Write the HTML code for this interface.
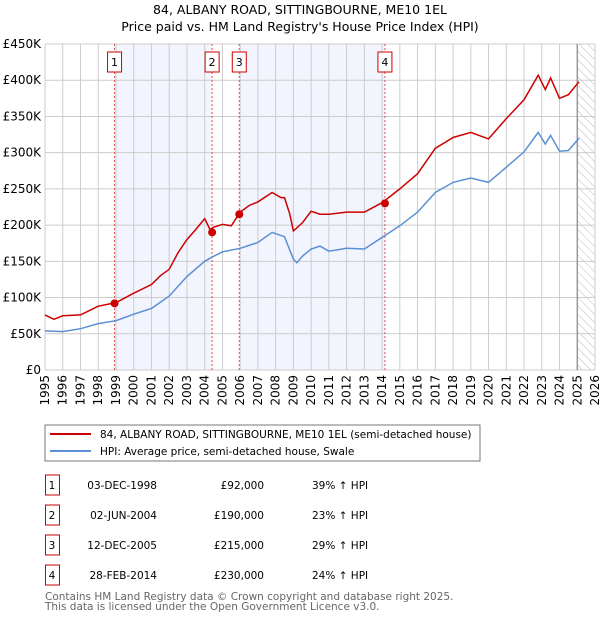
<!DOCTYPE html>
<html><head><meta charset="utf-8"><style>
body{margin:0;background:#fff;font-family:"Liberation Sans","DejaVu Sans",sans-serif;}
svg text{font-family:"DejaVu Sans","Liberation Sans",sans-serif;}
</style></head><body>
<svg id="chart" width="600" height="620" viewBox="0 0 600 620" xmlns="http://www.w3.org/2000/svg">
<defs><pattern id="hatch" width="6" height="6" patternUnits="userSpaceOnUse" patternTransform="rotate(-45)"><line x1="0" y1="0" x2="0" y2="6" stroke="#bbb" stroke-width="1"/></pattern></defs>
<text x="300" y="14" text-anchor="middle" font-size="12.5">84, ALBANY ROAD, SITTINGBOURNE, ME10 1EL</text>
<text x="300" y="31" text-anchor="middle" font-size="12.5">Price paid vs. HM Land Registry's House Price Index (HPI)</text>
<g id="plot"></g>
<g>
<rect x="45" y="425" width="435" height="36" fill="#fff" stroke="#777"/>
<line x1="50" y1="434" x2="91" y2="434" stroke="#cc0000" stroke-width="2"/>
<text x="100" y="438" font-size="10.5">84, ALBANY ROAD, SITTINGBOURNE, ME10 1EL (semi-detached house)</text>
<line x1="50" y1="451" x2="91" y2="451" stroke="#5b8fd4" stroke-width="2"/>
<text x="100" y="455" font-size="10.5">HPI: Average price, semi-detached house, Swale</text>
</g>
<g id="table"></g>
<text x="45" y="600" font-size="10.5" fill="#666">Contains HM Land Registry data © Crown copyright and database right 2025.</text>
<text x="45" y="610" font-size="10.5" fill="#666">This data is licensed under the Open Government Licence v3.0.</text>
</svg>
<script>
const hpiYears=[1995,1996,1997,1998,1999,2000,2001,2002,2003,2004,2004.5,2005,2006,2007,2007.8,2008.5,2009,2009.2,2009.5,2010,2010.5,2011,2012,2013,2014,2015,2016,2017,2018,2019,2020,2021,2022,2022.8,2023.2,2023.5,2024,2024.5,2025.1];
const hpiValues=[54,53,57,64,68,77,85,102,129,150,157,163,168,176,190,184,153,148,157,167,171,164,168,167,183,199,218,245,259,265,259,280,301,328,312,324,302,303,320];
const priceYears=[1995,1995.5,1996,1997,1998,1999,2000,2001,2001.5,2002,2002.5,2003,2003.5,2004,2004.3,2004.5,2005,2005.5,2006,2006.5,2007,2007.8,2008.3,2008.5,2008.8,2009,2009.5,2010,2010.5,2011,2012,2013,2014,2015,2016,2017,2018,2019,2020,2021,2022,2022.8,2023.2,2023.5,2024,2024.5,2025.1];
const priceValues=[76,70,75,76,88,93,106,118,130,139,162,180,194,209,194,197,201,199,218,227,232,245,238,238,215,192,203,219,215,215,218,218,231,250,271,306,321,328,319,347,373,407,387,403,375,380,398];
const saleLabels=["1","2","3","4"];
const saleDates=["03-DEC-1998","02-JUN-2004","12-DEC-2005","28-FEB-2014"];
const saleYears=[1998.92,2004.42,2005.95,2014.16];
const salePrices=[92,190,215,230];
const salePriceText=["£92,000","£190,000","£215,000","£230,000"];
const saleHpiText=["39% ↑ HPI","23% ↑ HPI","29% ↑ HPI","24% ↑ HPI"];
const yTicks=[0,50,100,150,200,250,300,350,400,450];
const yTickLabels=["£0","£50K","£100K","£150K","£200K","£250K","£300K","£350K","£400K","£450K"];
const xTicks=[1995,1996,1997,1998,1999,2000,2001,2002,2003,2004,2005,2006,2007,2008,2009,2010,2011,2012,2013,2014,2015,2016,2017,2018,2019,2020,2021,2022,2023,2024,2025,2026];

const X0=45,X1=595,Y0=370,Y1=44;
const x=v=>X0+(v-1995)/31*(X1-X0);
const y=v=>Y0-v/450*(Y0-Y1);
const NS="http://www.w3.org/2000/svg";
function mk(tag,attrs,parent){const e=document.createElementNS(NS,tag);for(const k in attrs)e.setAttribute(k,attrs[k]);parent.appendChild(e);return e;}
const plot=document.getElementById('plot');
[[0,1],[2,3]].forEach(([a,b])=>{
 const r=mk('rect',{x:x(saleYears[a]),y:Y1,width:x(saleYears[b])-x(saleYears[a]),height:Y0-Y1,fill:'#eef2fc',opacity:0.75},plot);
 
 
});
const h=mk('rect',{x:x(2025),y:Y1,width:X1-x(2025),height:Y0-Y1,fill:'url(#hatch)'},plot);


yTicks.forEach((t,i)=>{
 const g=mk('line',{x1:X0,x2:X1,y1:y(t),y2:y(t),stroke:'#ccc'},plot);
 
 
 const l=mk('text',{x:X0-4,y:y(t)+4,'text-anchor':'end','font-size':12},plot);
 l.textContent=yTickLabels[i];
 
 
});
xTicks.forEach(t=>{
 const g=mk('line',{x1:x(t),x2:x(t),y1:Y1,y2:Y0,stroke:'#ccc'},plot);
 
 
 const l=mk('text',{x:0,y:0,'text-anchor':'end','font-size':12,transform:`translate(${x(t)+4},${Y0+5}) rotate(-90)`},plot);
 l.textContent=t;
 
 
});
const nl=mk('line',{x1:x(2025),x2:x(2025),y1:Y1,y2:Y0,stroke:'#888','stroke-width':1.2},plot);


saleYears.forEach((s,i)=>{
 const v=mk('line',{x1:x(s),x2:x(s),y1:Y1,y2:Y0,stroke:'#e05050','stroke-dasharray':'2,2','stroke-width':1},plot);
 
 
 const b=mk('rect',{x:x(s)-7,y:52,width:14,height:20,fill:'#fff',stroke:'#cc0000'},plot);
 
 
 const t=mk('text',{x:x(s),y:66,'text-anchor':'middle','font-size':11},plot);
 t.textContent=saleLabels[i];
 
 
});
const pts=(xs,vs)=>xs.map((v,i)=>x(v).toFixed(1)+','+y(vs[i]).toFixed(1)).join(' ');
const hp=mk('polyline',{points:pts(hpiYears,hpiValues),fill:'none',stroke:'#5b8fd4','stroke-width':1.5},plot);


const pp=mk('polyline',{points:pts(priceYears,priceValues),fill:'none',stroke:'#cc0000','stroke-width':1.5},plot);


saleYears.forEach((s,i)=>{
 const c=mk('circle',{cx:x(s),cy:y(salePrices[i]),r:4,fill:'#cc0000'},plot);
 
 
});
const tb=document.getElementById('table');
saleLabels.forEach((lab,i)=>{
 const cy=485+i*30;
 const b=mk('rect',{x:45.5,y:cy-10,width:14,height:20,fill:'#fff',stroke:'#cc0000'},tb);
 
 
 const items=[[52,'middle',lab],[157,'end',saleDates[i]],[264,'end',salePriceText[i]],[312,'start',saleHpiText[i]]];
 items.forEach(([tx,anc,txt],j)=>{
  const t=mk('text',{x:tx,y:cy+4,'text-anchor':anc,'font-size':10.5},tb);
  t.textContent=txt;
  
  
 });
});
</script>
</body></html>
